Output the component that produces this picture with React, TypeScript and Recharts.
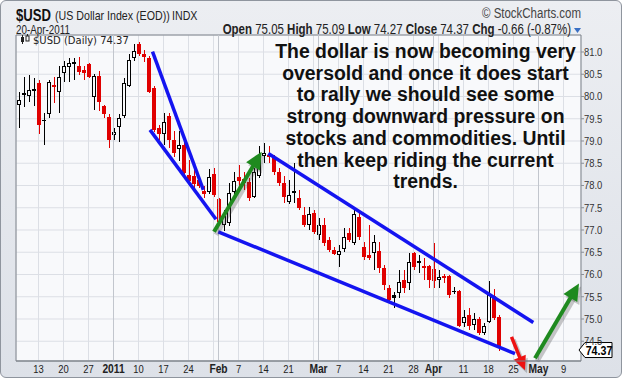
import React from 'react';
import { ComposedChart, Bar, XAxis, YAxis, CartesianGrid, ReferenceLine, ReferenceArea } from 'recharts';

const SANS = "'Liberation Sans', Arial, sans-serif";
const NARROW_SCALE = 0.82;
const PLOT_BG = '#f8f9fb';

const FIRST_DAY = '2010-12-07';
const SLOT_COUNT = 113;
const PREV_CLOSE_START = 79.7;
const LAST_CLOSE = 74.37;

const OPEN = [
  79.81, 80.07, 80.01, 80.12, 80.30, 79.48, 79.61, 80.25, 80.10, 80.53,
  80.66, 80.74, 80.69, 80.60, 80.73, 79.98, 80.45, 79.78, 79.54, 79.13,
  79.31, 79.56, 80.24, 80.87, 81.19, 80.96, 80.87, 80.19, 79.29, 79.15,
  79.56, 79.02, 78.82, 78.91, 78.24, 78.21, 78.12, 77.88, 77.85, 78.26,
  77.69, 77.12, 77.16, 77.85, 78.19, 78.15, 78.08, 77.75, 78.21, 78.66,
  78.69, 78.62, 78.30, 78.06, 77.63, 77.88, 77.72, 77.34, 77.11, 77.38,
  76.89, 77.11, 76.78, 76.55, 76.44, 76.57, 76.93, 76.71, 77.29, 76.62,
  76.44, 76.48, 76.53, 76.15, 75.70, 75.54, 75.58, 75.88, 75.81, 76.48,
  76.26, 76.19, 76.19, 76.12, 75.88, 75.97, 75.97, 75.62, 75.63, 74.91,
  75.09, 74.87, 75.00, 74.69, 74.93, 75.52, 75.05,
];
const HIGH = [
  80.10, 80.44, 80.48, 80.42, 80.36, 79.63, 80.37, 80.44, 80.69, 80.80,
  80.87, 80.87, 80.89, 80.69, 80.75, 80.51, 80.57, 79.82, 79.61, 79.29,
  79.61, 80.42, 80.96, 81.18, 81.22, 81.04, 80.91, 80.24, 79.36, 79.63,
  79.63, 79.22, 79.22, 78.98, 78.57, 78.51, 78.21, 77.99, 78.37, 78.39,
  77.72, 77.45, 78.06, 78.30, 78.46, 78.30, 78.17, 78.39, 78.89, 78.96,
  78.89, 78.69, 78.39, 78.21, 78.12, 78.51, 77.90, 77.52, 77.52, 77.45,
  77.27, 77.27, 76.84, 76.62, 76.66, 77.04, 77.04, 77.45, 77.38, 76.73,
  77.11, 76.89, 76.73, 76.21, 75.76, 75.61, 76.10, 76.10, 76.48, 76.51,
  76.44, 76.37, 76.21, 76.71, 76.10, 76.01, 75.99, 75.72, 75.65, 75.20,
  75.25, 75.13, 75.04, 74.91, 75.85, 75.67, 75.09,
];
const LOW = [
  79.29, 79.76, 79.88, 79.79, 79.16, 78.91, 79.52, 79.85, 79.63, 80.33,
  80.33, 80.37, 80.48, 80.37, 80.42, 79.70, 79.67, 79.52, 78.84, 79.02,
  78.98, 79.52, 80.21, 80.80, 80.91, 80.78, 80.08, 79.20, 79.02, 78.91,
  78.84, 78.64, 78.55, 78.21, 77.99, 77.90, 77.94, 77.72, 77.81, 77.74,
  77.11, 76.98, 77.09, 77.79, 77.94, 77.90, 77.65, 77.72, 78.17, 78.51,
  78.51, 78.24, 77.99, 77.61, 77.58, 77.61, 77.45, 77.07, 77.00, 76.91,
  76.78, 76.64, 76.51, 76.44, 76.17, 76.51, 76.73, 76.66, 76.78, 76.33,
  76.33, 76.10, 76.03, 75.65, 75.38, 75.25, 75.47, 75.58, 75.65, 76.10,
  76.03, 75.88, 75.70, 75.70, 75.70, 75.81, 75.47, 75.56, 74.82, 74.82,
  74.75, 74.75, 74.64, 74.64, 74.91, 74.98, 74.27,
];
const CLOSE = [
  79.92, 80.04, 80.15, 80.17, 79.36, 79.45, 80.33, 80.21, 80.44, 80.69,
  80.76, 80.78, 80.54, 80.52, 80.44, 80.45, 79.87, 79.60, 79.03, 79.20,
  79.52, 80.31, 80.83, 81.02, 80.96, 80.88, 80.11, 79.25, 79.16, 79.43,
  79.02, 78.73, 78.91, 78.28, 78.10, 78.03, 77.99, 77.81, 78.19, 77.79,
  77.19, 77.31, 77.83, 78.11, 78.10, 78.06, 77.72, 78.30, 78.62, 78.74,
  78.64, 78.30, 78.06, 77.74, 77.78, 77.83, 77.49, 77.11, 77.35, 76.96,
  77.12, 76.71, 76.55, 76.46, 76.53, 76.84, 76.78, 77.36, 76.84, 76.39,
  76.37, 76.74, 76.15, 75.76, 75.43, 75.48, 75.83, 75.70, 76.28, 76.17,
  76.30, 76.15, 75.88, 75.85, 75.94, 75.92, 75.54, 75.60, 74.84, 75.04,
  74.84, 75.00, 74.69, 74.84, 75.54, 75.03, 74.37,
];

const TICK_DATES = [
  '2010-12-13', '2010-12-20', '2010-12-27', '2011-01-03', '2011-01-10', '2011-01-17', '2011-01-24',
  '2011-01-31', '2011-02-01', '2011-02-07', '2011-02-14', '2011-02-21', '2011-02-28', '2011-03-01',
  '2011-03-07', '2011-03-14', '2011-03-21', '2011-03-28', '2011-04-01', '2011-04-04', '2011-04-11',
  '2011-04-18', '2011-04-25', '2011-05-02', '2011-05-09',
];
const TICK_LABELS = [
  '13', '20', '27', '2011', '10', '17', '24',
  '', 'Feb', '7', '14', '21', '', 'Mar',
  '7', '14', '21', '28', 'Apr', '', '11',
  '18', '25', 'May', '9',
];
const MONTH_STARTS = ['2011-01-03', '2011-02-01', '2011-03-01', '2011-04-01', '2011-05-02'];

const Y_TICKS = [74.5, 75, 75.5, 76, 76.5, 77, 77.5, 78, 78.5, 79, 79.5, 80, 80.5, 81];
const Y_MIN = 74.056;
const Y_MAX = 81.382;
const X_MIN = -0.5;
const X_MAX = SLOT_COUNT - 0.5;

// annotation segments in data units: [slotFrom, priceFrom, slotTo, priceTo]
const TREND_LINES = [
  [26.8, 81.01, 36.96, 77.9],
  [26.3, 79.25, 39.5, 77.24],
  [39.96, 76.96, 99.3, 74.22],
  [49.96, 78.72, 102.96, 74.92],
];
const GREEN_ARROWS = [
  [39.1, 76.96, 48.64, 78.76],
  [103.3, 74.12, 112.1, 75.8],
];
const RED_ARROWS = [[98.6, 74.6, 101.3, 73.85]];

const NOTE_LINES = [
  'The dollar is now becoming very',
  'oversold and once it does start',
  'to rally we should see some',
  'strong downward pressure on',
  'stocks and commodities. Until',
  'then keep riding the current',
  'trends.',
];

function weekdays(start: string, count: number): string[] {
  const out: string[] = [];
  const d = new Date(start + 'T00:00:00Z');
  while (out.length < count) {
    const wd = d.getUTCDay();
    if (wd !== 0 && wd !== 6) out.push(d.toISOString().slice(0, 10));
    d.setUTCDate(d.getUTCDate() + 1);
  }
  return out;
}

const DATES = weekdays(FIRST_DAY, SLOT_COUNT);
const ROWS = DATES.map((d, i) =>
  i < CLOSE.length
    ? { d, i, o: OPEN[i], h: HIGH[i], l: LOW[i], c: CLOSE[i], pc: i === 0 ? PREV_CLOSE_START : CLOSE[i - 1] }
    : { d, i }
);
const LABEL_MAP: Record<string, string> = {};
TICK_DATES.forEach((d, k) => (LABEL_MAP[d] = TICK_LABELS[k]));

// condensed text: regular Liberation Sans squeezed horizontally
function NText(props: any) {
  const { x, y, children, scale = NARROW_SCALE, ...rest } = props;
  return (
    <text transform={`translate(${x},${y}) scale(${scale},1)`} x={0} y={0} fontFamily={SANS} {...rest}>
      {children}
    </text>
  );
}

function Candle(props: any) {
  const { x, y, width, height, payload } = props;
  if (!payload || payload.o == null || y == null) return null;
  const { o, h, l, c, pc } = payload;
  const yTop = Math.min(y, y + height);
  const hh = Math.abs(height);
  const span = h - l || 1;
  const py = (v: number) => yTop + ((h - v) / span) * hh;
  const color = c >= pc ? '#000000' : '#e00000';
  const hollow = c > o;
  const cx = Math.floor(x + width / 2);
  const left = cx - 2;
  const top = Math.round(py(Math.max(o, c)));
  const bot = Math.round(py(Math.min(o, c)));
  const wt = Math.round(yTop);
  const wb = Math.round(yTop + hh);
  return (
    <g>
      <line x1={cx + 0.5} x2={cx + 0.5} y1={wt} y2={wb} stroke={color} strokeWidth={1} />
      {hollow && bot - top >= 2 ? (
        <rect x={left + 0.5} y={top + 0.5} width={3} height={bot - top - 1} fill={PLOT_BG} stroke={color} strokeWidth={1} />
      ) : (
        <rect x={left} y={top} width={4} height={Math.max(bot - top, 1)} fill={color} />
      )}
    </g>
  );
}

function makeArrow(color: string, width: number, headLen: number, headW: number) {
  return (p: any) => {
    const { x1, y1, x2, y2 } = p;
    const dx = x2 - x1;
    const dy = y2 - y1;
    const len = Math.hypot(dx, dy) || 1;
    const ux = dx / len;
    const uy = dy / len;
    const nx = -uy;
    const ny = ux;
    const bx = x2 - ux * headLen;
    const by = y2 - uy * headLen;
    const head = (ox: number, oy: number) =>
      `${x2 + ox},${y2 + oy} ${bx + (nx * headW) / 2 + ox},${by + (ny * headW) / 2 + oy} ${bx - (nx * headW) / 2 + ox},${by - (ny * headW) / 2 + oy}`;
    return (
      <g>
        <line x1={x1 + 2} y1={y1 + 3} x2={bx + ux * 2 + 2} y2={by + uy * 2 + 3} stroke="rgba(60,60,60,0.28)" strokeWidth={width + 1} />
        <polygon points={head(2, 3)} fill="rgba(60,60,60,0.28)" />
        <line x1={x1} y1={y1} x2={bx + ux * 2} y2={by + uy * 2} stroke={color} strokeWidth={width} />
        <polygon points={head(0, 0)} fill={color} />
      </g>
    );
  };
}
const greenArrow = makeArrow('#1f8a1f', 4, 17, 16);
const redArrow = makeArrow('#ee1111', 3.5, 14, 13);

function XTick(props: any) {
  const { x, y, payload } = props;
  const label = LABEL_MAP[payload.value] ?? '';
  const bold = /[A-Za-z]/.test(label) || label.length === 4;
  return (
    <NText x={x} y={y + 12} textAnchor="middle" fontSize={bold ? 12.5 : 11.5}
      fontWeight={bold ? 'bold' : 'normal'} fill="#222">
      {label}
    </NText>
  );
}

function YTick(props: any) {
  const { x, y, payload } = props;
  return (
    <NText x={x} y={y + 4} textAnchor="start" fontSize={11.5} fill="#333">
      {Number(payload.value).toFixed(1)}
    </NText>
  );
}

function LastBox(props: any) {
  const vb = props.viewBox || {};
  const x0 = vb.x + vb.width - 2;
  const cy = vb.y + 3;
  const d = `M${x0},${cy} L${x0 + 6},${cy - 7.5} L${x0 + 33},${cy - 7.5} L${x0 + 33},${cy + 7.5} L${x0 + 6},${cy + 7.5} Z`;
  return (
    <g>
      <path d={d} fill="#ffffff" stroke="#000" strokeWidth={1} />
      <NText x={x0 + 20} y={cy + 4.5} textAnchor="middle" fontSize={13} fontWeight="bold" fill="#000">
        {LAST_CLOSE.toFixed(2)}
      </NText>
    </g>
  );
}

export default function App() {
  return (
    <div style={{ position: 'absolute', left: 0, top: 0, width: 622, height: 378, boxSizing: 'border-box',
      background: 'linear-gradient(180deg, #eceef2 0%, #dde1e8 100%)', border: '1px solid #8f959e', borderRadius: 6, overflow: 'hidden' }}>
      <div style={{ position: 'absolute', left: -1, top: -1 }}>
        <ComposedChart width={622} height={378} data={ROWS} margin={{ top: 35, right: 0, bottom: 0, left: 16 }}>
          <CartesianGrid xAxisId="cat" yAxisId="price" fill={PLOT_BG} stroke="#dcdfe5" strokeWidth={1} />
          <XAxis xAxisId="cat" dataKey="d" type="category" ticks={TICK_DATES} interval={0} height={17}
            tickSize={0} tickMargin={0} tickLine={false} axisLine={{ stroke: '#7f848c' }} tick={<XTick />} />
          <XAxis xAxisId="num" dataKey="i" type="number" domain={[X_MIN, X_MAX]} allowDataOverflow hide />
          <YAxis yAxisId="price" orientation="right" width={41} domain={[Y_MIN, Y_MAX]} ticks={Y_TICKS} interval={0}
            allowDataOverflow axisLine={false} tickSize={3} tickMargin={0} tickLine={{ stroke: '#8a8f97' }} tick={<YTick />} />
          {MONTH_STARTS.map((m) => (
            <ReferenceLine key={m} xAxisId="cat" yAxisId="price" x={m} stroke="#c2c6cd" strokeWidth={1} />
          ))}
          <Bar xAxisId="cat" yAxisId="price" dataKey={(r: any) => (r.h == null ? null : [r.l, r.h])}
            barSize={4} shape={(p: any) => <Candle {...p} />} isAnimationActive={false} />
          <ReferenceArea xAxisId="num" yAxisId="price" x1={X_MIN} x2={X_MAX} y1={Y_MIN} y2={Y_MAX}
            fill="none" fillOpacity={0} stroke="#7f848c" strokeWidth={1} ifOverflow="visible" />
          {TREND_LINES.map((s, k) => (
            <ReferenceLine key={'t' + k} xAxisId="num" yAxisId="price" ifOverflow="visible"
              segment={[{ x: s[0], y: s[1] }, { x: s[2], y: s[3] }]} stroke="#1414f0" strokeWidth={3.5} />
          ))}
          {GREEN_ARROWS.map((s, k) => (
            <ReferenceLine key={'g' + k} xAxisId="num" yAxisId="price" ifOverflow="visible"
              segment={[{ x: s[0], y: s[1] }, { x: s[2], y: s[3] }]} shape={greenArrow} />
          ))}
          {RED_ARROWS.map((s, k) => (
            <ReferenceLine key={'r' + k} xAxisId="num" yAxisId="price" ifOverflow="visible"
              segment={[{ x: s[0], y: s[1] }, { x: s[2], y: s[3] }]} shape={redArrow} />
          ))}
          <ReferenceLine xAxisId="num" yAxisId="price" y={LAST_CLOSE} stroke="none" ifOverflow="visible"
            label={(p: any) => <LastBox {...p} />} />
        </ComposedChart>
      </div>
      <svg width={622} height={378} style={{ position: 'absolute', left: -1, top: -1, pointerEvents: 'none' }}>
        <NText x={16} y={21} fontSize={16} fontWeight="bold" fill="#111">$USD</NText>
        <NText x={55} y={20} fontSize={13} fill="#222">(US Dollar Index (EOD))</NText>
        <NText x={172} y={20} fontSize={13} fill="#222">INDX</NText>
        <NText x={16} y={34} fontSize={12} fill="#222">20-Apr-2011</NText>
        <NText x={581} y={18} textAnchor="end" fontSize={14} fill="#444">© StockCharts.com</NText>
        <NText x={571} y={34} textAnchor="end" fontSize={14} fill="#222">
          <tspan fontWeight="bold">Open</tspan> 75.05 <tspan fontWeight="bold">High</tspan> 75.09{' '}
          <tspan fontWeight="bold">Low</tspan> 74.27 <tspan fontWeight="bold">Close</tspan> 74.37{' '}
          <tspan fontWeight="bold">Chg</tspan> -0.66 (-0.87%)
        </NText>
        <polygon points="574,28 581,28 577.5,33" fill="#3a6fc4" />
        <g>
          <rect x={21} y={37} width={3} height={5} fill="#222" />
          <line x1={22.5} y1={35} x2={22.5} y2={44} stroke="#222" />
          <rect x={26} y={36} width={3} height={5} fill="none" stroke="#222" strokeWidth={1} />
          <line x1={27.5} y1={34} x2={27.5} y2={36} stroke="#222" />
        </g>
        <text x={33} y={44} fontFamily="'DejaVu Sans', Verdana, sans-serif" fontSize={10} fill="#222">$USD (Daily) 74.37</text>
        {NOTE_LINES.map((t, k) => (
          <text key={k} x={425.5} y={58 + k * 21.7} textAnchor="middle" fontFamily={SANS} fontSize={19.4}
            fontWeight="bold" fill="#111">
            {t}
          </text>
        ))}
      </svg>
    </div>
  );
}
